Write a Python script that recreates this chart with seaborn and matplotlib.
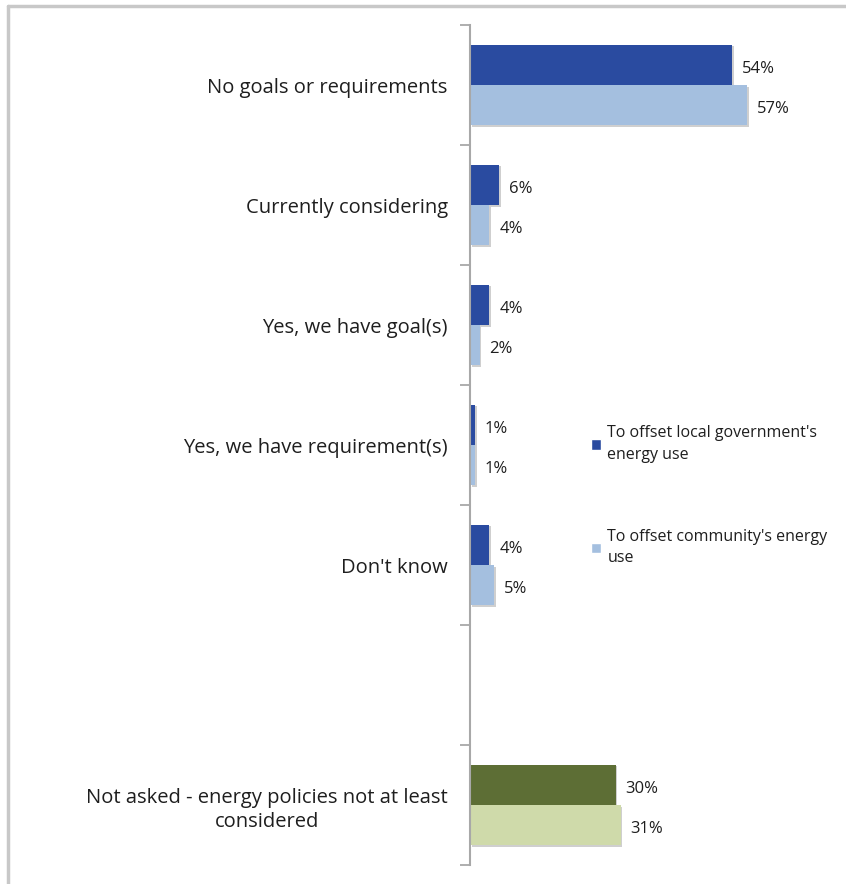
import matplotlib
matplotlib.use("Agg")
import matplotlib.pyplot as plt
import matplotlib.patheffects as pe
from matplotlib.lines import Line2D
from matplotlib.patches import Patch
import seaborn as sns
import pandas as pd

# Survey responses: share of respondents per answer, two offset targets
categories = [
    "No goals or requirements",
    "Currently considering",
    "Yes, we have goal(s)",
    "Yes, we have requirement(s)",
    "Don't know",
    "Not asked - energy policies not at least\nconsidered",
]
local_gov = [54, 6, 4, 1, 4, 30]
community = [57, 4, 2, 1, 5, 31]
series_names = [
    "To offset local government's\nenergy use",
    "To offset community's energy\nuse",
]
# an empty row separates the last answer from the others
order = categories[:5] + [" "] + categories[5:]

df = pd.DataFrame({
    "category": categories * 2,
    "value": local_gov + community,
    "series": [series_names[0]] * len(categories) + [series_names[1]] * len(categories),
})

blue_dark, blue_light = "#2A4BA0", "#A4BFDF"
green_dark, green_light = "#5D6E35", "#CFDAAA"

sns.set_theme(style="white")
plt.rcParams["font.family"] = ["Open Sans", "DejaVu Sans"]
text_color = "#1E1E1E"

fig = plt.figure(figsize=(8.46, 8.84), dpi=100)
ax = fig.add_axes([470 / 846, 1 - 865 / 884, 1 - 470 / 846, 840 / 884])

sns.barplot(
    data=df, y="category", x="value", hue="series", order=order,
    hue_order=series_names, palette=[blue_dark, blue_light], saturation=1,
    orient="h", width=0.67, errorbar=None, ax=ax, legend=False,
    linewidth=0,
)

shadow = [pe.SimplePatchShadow(offset=(1.2, -1.2), shadow_rgbFace="#777777", alpha=0.35), pe.Normal()]
last_idx = order.index(categories[-1])
for i, cont in enumerate(ax.containers):
    for bar in cont:
        bar.set_path_effects(shadow)
        yc = bar.get_y() + bar.get_height() / 2
        if abs(yc - last_idx) < 0.5:
            bar.set_facecolor(green_dark if i == 0 else green_light)
    for ann in ax.bar_label(cont, fmt="%d%%", padding=7, fontsize=12, color=text_color):
        ann.xyann = (7, -3)

ax.set_xlim(0, 77.4)
ax.set_ylim(len(order) - 0.5, -0.5)
ax.set_xlabel("")
ax.set_ylabel("")
ax.set_xticks([])

ax.set_yticks(range(len(order)))
ax.set_yticklabels(order, fontsize=14.5, color=text_color, multialignment="center",
                   linespacing=1.3)
ax.tick_params(axis="y", which="major", length=0, pad=16)
ax.set_yticks([k - 0.5 for k in range(len(order) + 1)], minor=True)
ax.tick_params(axis="y", which="minor", length=7, width=1.3, color="#A8A8A8", left=True)

for side in ["top", "right", "bottom"]:
    ax.spines[side].set_visible(False)
ax.spines["left"].set_color("#A8A8A8")
ax.spines["left"].set_linewidth(1.5)

handles = [Patch(facecolor=blue_dark), Patch(facecolor=blue_light)]
leg = fig.legend(
    handles, series_names, loc="upper left", bbox_to_anchor=(577 / 846, 1 - 411 / 884),
    frameon=False, fontsize=11.5, handlelength=0.6, handleheight=0.6,
    handletextpad=0.4, labelspacing=4.15, labelcolor=text_color,
)
for t in leg.get_texts():
    t.set_linespacing(1.45)

# light frame along the top and left edges
fig.add_artist(Line2D([8 / 846, 8 / 846], [0, 1 - 6 / 884], transform=fig.transFigure,
                      color="#C8C8C8", lw=2.5))
fig.add_artist(Line2D([8 / 846, 1], [1 - 6 / 884, 1 - 6 / 884], transform=fig.transFigure,
                      color="#C8C8C8", lw=2.5))

fig.savefig("out.png", dpi=100, facecolor="white")
